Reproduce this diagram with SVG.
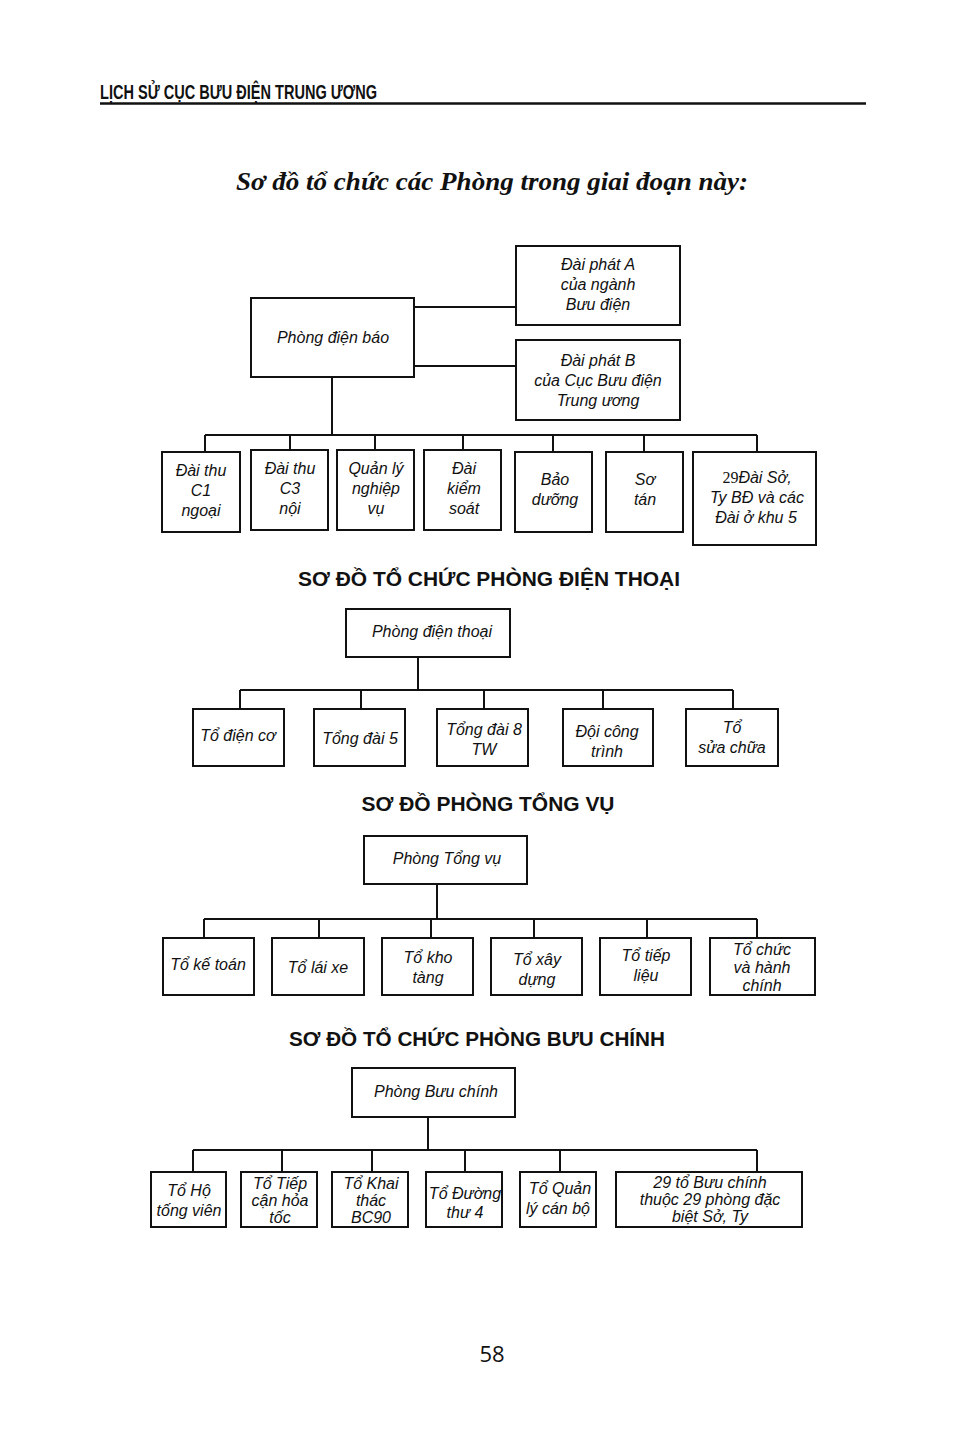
<svg xmlns="http://www.w3.org/2000/svg" width="969" height="1441" viewBox="0 0 969 1441">
<style>
.bx{fill:#fff;stroke:#111;stroke-width:2}
.ln{fill:none;stroke:#111;stroke-width:2}
.t{font-family:"Liberation Sans",Arial,sans-serif;font-style:italic;font-size:16px;fill:#111;text-anchor:middle}
.h{font-family:"Liberation Sans",Arial,sans-serif;font-weight:bold;font-size:20px;fill:#111;text-anchor:middle}
</style>
<rect width="969" height="1441" fill="#fff"/>
<text x="100" y="99" font-family="'Liberation Sans Narrow','Liberation Sans',sans-serif" font-weight="bold" font-size="20" textLength="277" lengthAdjust="spacingAndGlyphs" fill="#111">LỊCH SỬ CỤC BƯU ĐIỆN TRUNG ƯƠNG</text>
<line x1="100" y1="103.5" x2="866" y2="103.5" stroke="#111" stroke-width="2.5"/>
<text x="492" y="190" font-family="'Liberation Serif',serif" font-style="italic" font-weight="bold" font-size="26" text-anchor="middle" textLength="512" lengthAdjust="spacingAndGlyphs" fill="#111">Sơ đồ tổ chức các Phòng trong giai đoạn này:</text>

<g id="connectors">
<path class="ln" d="M414 307H516M414 366H516M332 377V435M205 435H757M205 435V452M290 435V450M375 435V450M463 435V450M553 435V452M644 435V452M757 435V452"/>
<path class="ln" d="M418 657V690M240 690H733M240 690V709M361 690V709M484 690V709M603 690V709M733 690V709"/>
<path class="ln" d="M437 884V919M204 919H757M204 919V938M319 919V938M431 919V938M534 919V938M647 919V938M757 919V938"/>
<path class="ln" d="M428 1117V1150M193 1150H757M193 1150V1172M282 1150V1172M372 1150V1172M465 1150V1172M560 1150V1172M757 1150V1172"/>
</g>

<g id="dienbao">
<rect class="bx" x="251" y="298" width="163" height="79"/>
<text class="t" x="333" y="343">Phòng điện báo</text>
</g>
<g id="daiphatA">
<rect class="bx" x="516" y="246" width="164" height="79"/>
<text class="t" x="598" y="270">Đài phát A</text>
<text class="t" x="598" y="290">của ngành</text>
<text class="t" x="598" y="310">Bưu điện</text>
</g>
<g id="daiphatB">
<rect class="bx" x="516" y="340" width="164" height="80"/>
<text class="t" x="598" y="366">Đài phát B</text>
<text class="t" x="598" y="386">của Cục Bưu điện</text>
<text class="t" x="598" y="406">Trung ương</text>
</g>
<g id="c1">
<rect class="bx" x="162" y="452" width="78" height="80"/>
<text class="t" x="201" y="476">Đài thu</text>
<text class="t" x="201" y="496">C1</text>
<text class="t" x="201" y="516">ngoại</text>
</g>
<g id="c3">
<rect class="bx" x="251" y="450" width="77" height="80"/>
<text class="t" x="290" y="474">Đài thu</text>
<text class="t" x="290" y="494">C3</text>
<text class="t" x="290" y="514">nội</text>
</g>
<g id="qlnv">
<rect class="bx" x="337" y="450" width="77" height="80"/>
<text class="t" x="376" y="474">Quản lý</text>
<text class="t" x="376" y="494">nghiệp</text>
<text class="t" x="376" y="514">vụ</text>
</g>
<g id="kiemsoat">
<rect class="bx" x="424" y="450" width="77" height="80"/>
<text class="t" x="464" y="474">Đài</text>
<text class="t" x="464" y="494">kiểm</text>
<text class="t" x="464" y="514">soát</text>
</g>
<g id="baoduong">
<rect class="bx" x="515" y="452" width="77" height="80"/>
<text class="t" x="555" y="485">Bảo</text>
<text class="t" x="555" y="505">dưỡng</text>
</g>
<g id="sotan">
<rect class="bx" x="606" y="452" width="77" height="80"/>
<text class="t" x="645" y="485">Sơ</text>
<text class="t" x="645" y="505">tán</text>
</g>
<g id="khu5">
<rect class="bx" x="693" y="452" width="123" height="93"/>
<text class="t" x="757" y="483"><tspan font-family="'Liberation Serif',serif" font-style="normal">29</tspan>Đài Sở,</text>
<text class="t" x="757" y="503">Ty BĐ và các</text>
<text class="t" x="756" y="523">Đài ở khu 5</text>
</g>

<text class="h" x="489" y="586" textLength="382" lengthAdjust="spacingAndGlyphs">SƠ ĐỒ TỔ CHỨC PHÒNG ĐIỆN THOẠI</text>
<g id="dienthoai">
<rect class="bx" x="346" y="609" width="164" height="48"/>
<text class="t" x="432" y="637">Phòng điện thoại</text>
</g>
<g id="dienco">
<rect class="bx" x="193" y="709" width="91" height="57"/>
<text class="t" x="238" y="741">Tổ điện cơ</text>
</g>
<g id="tongdai5">
<rect class="bx" x="314" y="709" width="91" height="57"/>
<text class="t" x="360" y="744">Tổng đài 5</text>
</g>
<g id="tongdai8">
<rect class="bx" x="437" y="709" width="91" height="57"/>
<text class="t" x="484" y="735">Tổng đài 8</text>
<text class="t" x="484" y="755">TW</text>
</g>
<g id="doicongtrinh">
<rect class="bx" x="563" y="709" width="90" height="57"/>
<text class="t" x="607" y="737">Đội công</text>
<text class="t" x="607" y="757">trình</text>
</g>
<g id="suachua">
<rect class="bx" x="686" y="709" width="92" height="57"/>
<text class="t" x="732" y="733">Tổ</text>
<text class="t" x="732" y="753">sửa chữa</text>
</g>

<text class="h" x="488" y="811" textLength="253" lengthAdjust="spacingAndGlyphs">SƠ ĐỒ PHÒNG TỔNG VỤ</text>
<g id="tongvu">
<rect class="bx" x="364" y="836" width="163" height="48"/>
<text class="t" x="447" y="864">Phòng Tổng vụ</text>
</g>
<g id="ketoan">
<rect class="bx" x="163" y="938" width="91" height="57"/>
<text class="t" x="208" y="970">Tổ kế toán</text>
</g>
<g id="laixe">
<rect class="bx" x="272" y="938" width="92" height="57"/>
<text class="t" x="318" y="973">Tổ lái xe</text>
</g>
<g id="khotang">
<rect class="bx" x="382" y="938" width="91" height="57"/>
<text class="t" x="428" y="963">Tổ kho</text>
<text class="t" x="428" y="983">tàng</text>
</g>
<g id="xaydung">
<rect class="bx" x="491" y="938" width="91" height="57"/>
<text class="t" x="537" y="965">Tổ xây</text>
<text class="t" x="537" y="985">dựng</text>
</g>
<g id="tieplieu">
<rect class="bx" x="600" y="938" width="91" height="57"/>
<text class="t" x="646" y="961">Tổ tiếp</text>
<text class="t" x="646" y="981">liệu</text>
</g>
<g id="hanhchinh">
<rect class="bx" x="710" y="938" width="105" height="57"/>
<text class="t" x="762" y="955">Tổ chức</text>
<text class="t" x="762" y="973">và hành</text>
<text class="t" x="762" y="991">chính</text>
</g>

<text class="h" x="477" y="1046" textLength="376" lengthAdjust="spacingAndGlyphs">SƠ ĐỒ TỔ CHỨC PHÒNG BƯU CHÍNH</text>
<g id="buuchinh">
<rect class="bx" x="352" y="1068" width="163" height="49"/>
<text class="t" x="436" y="1097">Phòng Bưu chính</text>
</g>
<g id="hotong">
<rect class="bx" x="151" y="1172" width="75" height="55"/>
<text class="t" x="189" y="1196">Tổ Hộ</text>
<text class="t" x="189" y="1216">tống viên</text>
</g>
<g id="hoatoc">
<rect class="bx" x="241" y="1172" width="76" height="55"/>
<text class="t" x="280" y="1189">Tổ Tiếp</text>
<text class="t" x="280" y="1206">cận hỏa</text>
<text class="t" x="280" y="1223">tốc</text>
</g>
<g id="bc90">
<rect class="bx" x="332" y="1172" width="76" height="55"/>
<text class="t" x="371" y="1189">Tổ Khai</text>
<text class="t" x="371" y="1206">thác</text>
<text class="t" x="371" y="1223">BC90</text>
</g>
<g id="duongthu">
<rect class="bx" x="426" y="1172" width="76" height="55"/>
<text class="t" x="465" y="1199">Tổ Đường</text>
<text class="t" x="465" y="1218">thư 4</text>
</g>
<g id="canbo">
<rect class="bx" x="520" y="1172" width="76" height="55"/>
<text class="t" x="560" y="1194">Tổ Quản</text>
<text class="t" x="558" y="1214">lý cán bộ</text>
</g>
<g id="to29">
<rect class="bx" x="616" y="1172" width="186" height="55"/>
<text class="t" x="710" y="1188">29 tổ Bưu chính</text>
<text class="t" x="710" y="1205">thuộc 29 phòng đặc</text>
<text class="t" x="710" y="1222">biệt Sở, Ty</text>
</g>

<text x="492" y="1362" font-family="'Open Sans','Noto Sans',sans-serif" font-size="22" text-anchor="middle" fill="#111">58</text>
</svg>
